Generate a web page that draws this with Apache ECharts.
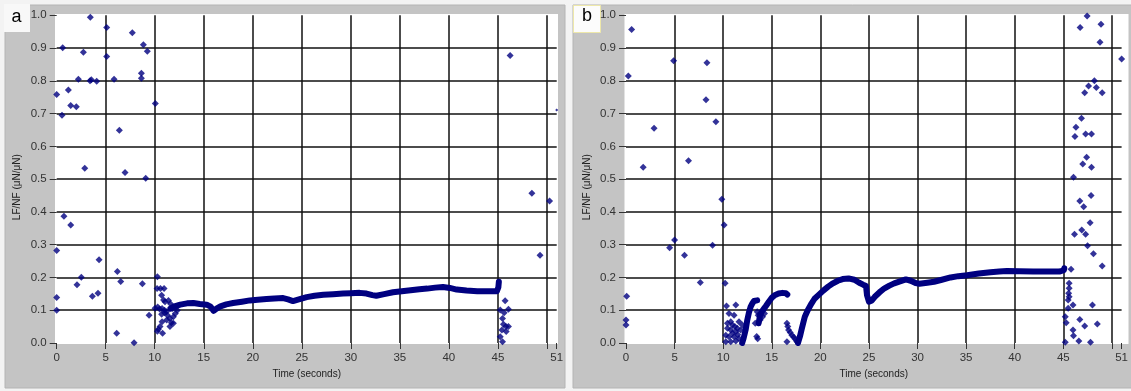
<!DOCTYPE html>
<html><head><meta charset="utf-8">
<script src="https://cdn.jsdelivr.net/npm/echarts@6/dist/echarts.min.js"></script>
<style>html,body{margin:0;padding:0;background:#f3f3f3;}#c{width:1131px;height:391px;}</style>
</head><body><div id="c"></div>
<script>
// ---------- data ----------
const panelLabels = ['a', 'b'];
const xName = 'Time (seconds)';
const yName = 'LF/NF (\u03bcN/\u03bcN)';
const xMin = 0, xMax = 51, xStep = 5;
const yMin = 0, yMax = 1, yStep = 0.1;

// Panel a
const aScatter = [[3.43,0.994],[5.10,0.963],[7.71,0.947],[0.61,0.901],[2.72,0.887],[5.10,0.874],[8.84,0.910],[9.24,0.890],
  [8.64,0.823],[8.64,0.808],[2.21,0.805],[3.40,0.800],[3.53,0.803],[4.08,0.799],[5.85,0.805],[1.19,0.772],[0.0,0.758],
  [1.43,0.725],[2.0,0.721],[0.54,0.695],[10.06,0.731],[6.39,0.649],[2.86,0.533],[6.97,0.520],[9.08,0.503],[0.74,0.387],
  [1.43,0.360],[0.0,0.282],[4.32,0.254],[2.51,0.201],[2.07,0.178],[6.19,0.218],[6.53,0.188],[8.74,0.181],[0.0,0.139],
  [3.64,0.143],[4.21,0.152],[6.12,0.030],[7.89,0.001],[9.42,0.085],[0.0,0.100],
  [46.25,0.877],[48.47,0.457],[50.27,0.433],[49.3,0.268]];
const aEdge = [[51.0,0.711]];
const aCluster = [[10.27,0.202],[10.24,0.166],[10.58,0.166],[10.95,0.166],[10.7,0.146],[10.9,0.131],[11.05,0.126],[11.4,0.13],
  [11.6,0.12],[10.03,0.106],[10.3,0.11],[10.5,0.104],[10.75,0.105],[11.0,0.1],[11.2,0.095],[10.7,0.088],[11.0,0.092],
  [11.3,0.085],[10.75,0.065],[11.22,0.07],[11.55,0.075],[11.9,0.08],[10.54,0.05],[10.37,0.042],[10.27,0.036],[10.8,0.03],
  [11.55,0.05],[11.7,0.062],[11.9,0.06],[12.1,0.09],[12.3,0.1],[11.8,0.105],[12.2,0.11]];
const aCurve = [[11.6,0.105],[12.0,0.112],[12.6,0.117],[13.3,0.121],[13.95,0.122],[14.6,0.119],[15.3,0.117],[15.7,0.111],
  [16.0,0.098],[16.3,0.105],[16.7,0.112],[17.3,0.118],[18.0,0.122],[18.9,0.126],[19.7,0.130],[20.5,0.132],[21.4,0.134],
  [22.2,0.136],[23.1,0.137],[23.6,0.133],[24.1,0.128],[24.7,0.133],[25.5,0.140],[26.3,0.144],[27.2,0.147],[28.2,0.149],
  [29.2,0.151],[30.0,0.152],[30.9,0.153],[31.6,0.151],[32.2,0.146],[32.6,0.144],[33.4,0.149],[34.3,0.155],[35.2,0.158],
  [36.1,0.161],[37.0,0.164],[37.8,0.166],[38.6,0.169],[39.4,0.171],[40.1,0.168],[40.8,0.163],[41.8,0.160],[42.9,0.158],
  [44.0,0.158],[44.9,0.158],[45.05,0.170],[45.1,0.187]];
const aTail = [[45.24,0.101],[45.74,0.129],[46.08,0.103],[45.64,0.092],[45.47,0.075],[45.57,0.057],[45.82,0.05],[46.08,0.05],
  [45.41,0.04],[45.85,0.035],[45.24,0.019],[45.47,0.004]];

// Panel b
const bScatter = [[0.58,0.957],[0.24,0.815],[4.90,0.861],[8.33,0.855],[8.23,0.742],[9.25,0.675],[2.89,0.655],[1.77,0.536],
  [6.43,0.556],[9.86,0.439],[10.1,0.360],[5.0,0.314],[4.49,0.291],[6.02,0.268],[8.91,0.298],[7.65,0.185],[10.2,0.182],
  [0.07,0.143],[0.0,0.07],[0.0,0.055],[10.34,0.113],[11.3,0.116]];
const bCluster = [[10.6,0.09],[11.12,0.085],[10.78,0.065],[10.95,0.055],[11.63,0.065],[11.97,0.055],[10.44,0.045],[10.78,0.04],
  [11.3,0.035],[11.8,0.04],[10.27,0.024],[10.6,0.019],[11.12,0.019],[11.63,0.014],[10.27,0.004],[10.78,0.004],[11.3,0.006],
  [10.44,0.06],[11.2,0.05],[11.45,0.045],[10.95,0.03],[11.5,0.025]];
const bBranch1 = [[11.95,0.0],[12.1,0.014],[12.31,0.04],[12.48,0.07],[12.65,0.093],[12.82,0.11],[12.99,0.12],[13.16,0.128],
  [13.34,0.131],[13.5,0.13]];
const bBits = [[13.3,0.06],[13.45,0.02],[13.55,0.013],[13.6,0.085],[13.5,0.095],[13.8,0.07],[14.05,0.08],[14.25,0.09]];
const bBranch2 = [[13.65,0.06],[13.8,0.085],[14.0,0.097],[14.2,0.105],[14.4,0.113],[14.7,0.126],[15.0,0.138],[15.3,0.146],
  [15.7,0.151],[16.1,0.153],[16.45,0.152],[16.6,0.148]];
const bV = [[16.56,0.06],[16.65,0.05],[16.73,0.04],[16.9,0.032],[17.07,0.024],[17.25,0.018],[17.4,0.012],[17.55,0.006],
  [17.65,0.002],[16.56,0.004]];
const bBranch3 = [[17.7,0.0],[17.9,0.02],[18.1,0.045],[18.4,0.08],[18.7,0.1],[19.1,0.121],[19.4,0.135],[19.8,0.146],
  [20.3,0.16],[20.8,0.172],[21.3,0.182],[21.8,0.19],[22.3,0.195],[22.9,0.197],[23.5,0.193],[24.0,0.184],[24.4,0.178],
  [24.7,0.174],[24.75,0.16],[24.8,0.146],[25.0,0.126],[25.1,0.121],[25.3,0.13],[25.6,0.141],[26.1,0.155],[26.6,0.167],
  [27.1,0.175],[27.6,0.182],[28.2,0.188],[28.8,0.194],[29.3,0.19],[29.8,0.183],[30.2,0.181],[31.0,0.184],[31.7,0.187],
  [32.5,0.193],[33.4,0.2],[34.2,0.204],[35.1,0.207],[36.3,0.212],[37.5,0.216],[38.4,0.218],[39.2,0.22],[40.5,0.219],
  [41.9,0.218],[43.3,0.218],[44.6,0.218],[45.05,0.222],[45.1,0.228]];
const bTail = [[47.45,0.998],[46.73,0.963],[48.88,0.973],[48.78,0.918],[51.0,0.867],[48.2,0.800],[47.6,0.784],[48.4,0.780],
  [47.2,0.764],[49.0,0.764],[46.87,0.686],[46.3,0.658],[46.2,0.630],[47.3,0.638],[47.9,0.638],[47.4,0.567],[47.0,0.546],
  [47.9,0.536],[46.05,0.506],[47.86,0.450],[46.7,0.433],[47.1,0.416],[47.76,0.367],[46.15,0.332],[46.9,0.345],[47.3,0.332],
  [47.5,0.297],[48.1,0.272],[49.0,0.235],[45.8,0.225],
  [45.6,0.182],[45.6,0.167],[45.55,0.152],[45.6,0.141],[45.5,0.131],[46.0,0.116],[45.5,0.106],[48.0,0.116],[45.2,0.080],
  [45.3,0.062],[46.7,0.072],[47.2,0.052],[48.5,0.058],[46.0,0.040],[46.05,0.022],[46.6,0.006],[47.8,0.002],[45.2,0.002]];

// ---------- chart ----------
const NAVY = '#000080';
const FONT = '"Liberation Sans", Arial, sans-serif';
const chart = echarts.init(document.getElementById('c'), null, {renderer: 'canvas'});

function xAxisFor(i) {
  return {
    type: 'value', gridIndex: i, min: xMin, max: xMax, interval: xStep,
    axisLine: {show: false},
    axisTick: {show: true, length: 6, lineStyle: {color: '#333'}},
    axisLabel: {margin: 9, color: '#333', fontSize: 11.5, fontFamily: FONT,
      formatter: v => (v === 50 ? '' : String(v))},
    splitLine: {show: true, showMinLine: false, showMaxLine: false, lineStyle: {color: '#111', width: 1.5}},
    name: xName, nameLocation: 'middle', nameGap: 26,
    nameTextStyle: {color: '#222', fontSize: 10, fontFamily: FONT}
  };
}
function yAxisFor(i) {
  return {
    type: 'value', gridIndex: i, min: yMin, max: yMax, interval: yStep,
    axisLine: {show: false},
    axisTick: {show: true, length: 7, lineStyle: {color: '#333'}},
    axisLabel: {margin: 10, color: '#333', fontSize: 11.5, fontFamily: FONT, formatter: v => v.toFixed(1)},
    splitLine: {show: true, showMinLine: false, showMaxLine: false, lineStyle: {color: '#111', width: 1.5}},
    name: yName, nameLocation: 'middle', nameGap: 34,
    nameTextStyle: {color: '#222', fontSize: 10, fontFamily: FONT, padding: [0, 16, 0, 0]}
  };
}
function pts(data, i, size) {
  return {type: 'scatter', xAxisIndex: i, yAxisIndex: i, data: data, symbol: 'diamond',
    symbolSize: size || 7, itemStyle: {color: NAVY}, silent: true};
}
function band(data, i) {
  return {type: 'line', xAxisIndex: i, yAxisIndex: i, data: data, symbol: 'none', showSymbol: false,
    lineStyle: {color: NAVY, width: 6, cap: 'round', join: 'round'}, silent: true};
}

const option = {
  animation: false,
  backgroundColor: '#f3f3f3',
  grid: [
    {left: 56.7, top: 15.3, width: 500, height: 327.7, show: false},
    {left: 626, top: 15.3, width: 500, height: 327.7, show: false}
  ],
  xAxis: [xAxisFor(0), xAxisFor(1)],
  yAxis: [yAxisFor(0), yAxisFor(1)],
  graphic: {elements: [
    {type: 'rect', z: -100, silent: true, shape: {x: 5, y: 5, width: 560, height: 383}, style: {fill: '#c4c4c4', stroke: '#b4b4b4', lineWidth: 1}},
    {type: 'rect', z: -99, silent: true, shape: {x: 4, y: 4, width: 26, height: 28}, style: {fill: '#f8f8f8'}},
    {type: 'rect', z: -100, silent: true, shape: {x: 573, y: 5, width: 560, height: 383}, style: {fill: '#c4c4c4', stroke: '#b4b4b4', lineWidth: 1}},
    {type: 'rect', z: -99, silent: true, shape: {x: 573.5, y: 5.5, width: 27, height: 27}, style: {fill: '#fcfcfc', stroke: '#eee8aa', lineWidth: 1}},
    {type: 'rect', z: -98, silent: true, shape: {x: 55, y: 14, width: 503, height: 330}, style: {fill: '#ffffff'}},
    {type: 'rect', z: -98, silent: true, shape: {x: 624.5, y: 14, width: 504, height: 330}, style: {fill: '#ffffff'}},
    {type: 'text', z: 10, silent: true, x: 16.5, y: 17, style: {text: panelLabels[0], font: '18px ' + FONT, fill: '#000', align: 'center', verticalAlign: 'middle'}},
    {type: 'text', z: 10, silent: true, x: 587, y: 16, style: {text: panelLabels[1], font: '18px ' + FONT, fill: '#000', align: 'center', verticalAlign: 'middle'}}
  ]},
  series: [
    pts(aScatter, 0), pts(aCluster, 0), pts(aTail, 0), pts(aEdge, 0, 3), band(aCurve, 0),
    pts(bScatter, 1), pts(bCluster, 1), pts(bBits, 1), pts(bV, 1), pts(bTail, 1),
    band(bBranch1, 1), band(bBranch2, 1), band(bBranch3, 1)
  ]
};
chart.setOption(option);
</script>
</body></html>
